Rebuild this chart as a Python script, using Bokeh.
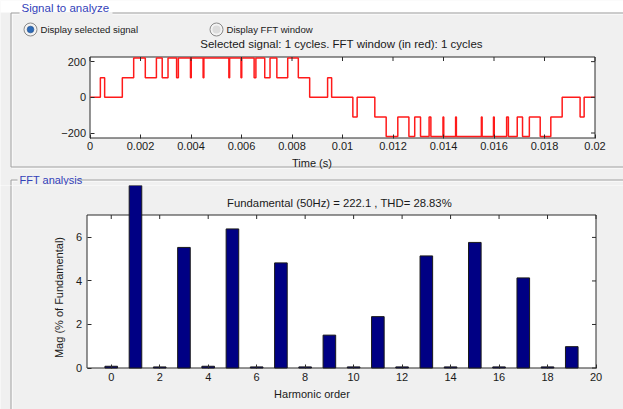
import numpy as np
from bokeh.plotting import figure
from bokeh.models import Range1d, FixedTicker, CustomJSTickFormatter
from bokeh.core.properties import value
from bokeh.layouts import column
from bokeh.embed import file_html
from bokeh.resources import INLINE

# ---------------- data ----------------
switch_times = [0.0, 0.00041, 0.00058, 0.00128, 0.00173, 0.00219, 0.00263, 0.00286, 0.00309,
                0.00343, 0.00350, 0.00398, 0.00401, 0.00448, 0.00451, 0.00550, 0.00553, 0.00598,
                0.00601, 0.00650, 0.00657, 0.00692, 0.00713, 0.00740, 0.00783, 0.00825, 0.00870,
                0.00941, 0.00957,
                0.01041, 0.01058, 0.01128, 0.01173, 0.01219, 0.01263, 0.01286, 0.01309, 0.01343,
                0.01350, 0.01398, 0.01401, 0.01448, 0.01451, 0.01550, 0.01553, 0.01598, 0.01601,
                0.01650, 0.01657, 0.01692, 0.01713, 0.01740, 0.01783, 0.01825, 0.01870, 0.01941,
                0.01957, 0.02]
switch_levels = [0, 110, 0, 110, 220, 110, 220, 110, 220, 110, 220, 110, 220, 110, 220, 110, 220,
                 110, 220, 110, 220, 110, 220, 110, 220, 110, 0, 110, 0,
                 -110, 0, -110, -220, -110, -220, -110, -220, -110, -220, -110, -220, -110, -220,
                 -110, -220, -110, -220, -110, -220, -110, -220, -110, -220, -110, 0, -110, 0, 0]
time_lim = [0.0, 0.02]
volt_lim = [-228, 226]
time_ticks = [0, 0.002, 0.004, 0.006, 0.008, 0.01, 0.012, 0.014, 0.016, 0.018, 0.02]
volt_ticks = [-200, 0, 200]

harmonic_order = [0, 1, 2, 3, 4, 5, 6, 7, 8, 9, 10, 11, 12, 13, 14, 15, 16, 17, 18, 19]
harmonic_mag = [0.08, 100.0, 0.05, 5.54, 0.08, 6.39, 0.05, 4.83, 0.05, 1.51,
                0.05, 2.36, 0.05, 5.15, 0.05, 5.77, 0.05, 4.14, 0.05, 0.98]
harm_lim = [-1, 20]
mag_lim = [0, 7.03]
harm_ticks = [0, 2, 4, 6, 8, 10, 12, 14, 16, 18, 20]
mag_ticks = [0, 2, 4, 6]

panel1_title = "Signal to analyze"
panel2_title = "FFT analysis"
radio_labels = ["Display selected signal", "Display FFT window"]
signal_title = "Selected signal: 1 cycles. FFT window (in red): 1 cycles"
fft_title = "Fundamental (50Hz) = 222.1 , THD= 28.83%"

# ---------------- style / layout ----------------
BG = "#f0f0f0"
AXC = "#2b2b2b"
TXT = "#1a1a1a"
BLUE = "#3341b8"
NAVY = "#000084"
EDGE = "#1a1a1a"
FONT = "Liberation Sans"
BAR_W = 0.52
W = 623
H1 = 185
H2 = 409 - H1


def mapper(lim_x, lim_y, l, r, t, b):
    fx = lambda px: lim_x[0] + (px - l) * (lim_x[1] - lim_x[0]) / (r - l)
    fy = lambda py: lim_y[1] - (py - t) * (lim_y[1] - lim_y[0]) / (b - t)
    return fx, fy


def make_fig(fx, fy, h):
    p = figure(width=W, height=h, x_range=Range1d(fx(0), fx(W)), y_range=Range1d(fy(h), fy(0)),
               output_backend="svg", toolbar_location=None, title=None,
               min_border=0, min_border_left=0, min_border_right=0,
               min_border_top=0, min_border_bottom=0,
               border_fill_color=BG, background_fill_color=BG, outline_line_color=None)
    p.grid.visible = False
    return p


def style_axis(ax):
    ax.axis_line_color = None
    ax.major_tick_line_color = AXC
    ax.major_tick_in = 4
    ax.major_tick_out = 0
    ax.minor_tick_line_color = None
    ax.major_label_text_font = FONT
    ax.major_label_text_font_size = "11px"
    ax.major_label_text_color = TXT
    ax.axis_label_text_font = FONT
    ax.axis_label_text_font_size = "11px"
    ax.axis_label_text_font_style = "normal"
    ax.axis_label_text_color = TXT


def text(p, fx, fy, px, py, s, size="11px", color=TXT, align="left", baseline="middle"):
    p.text(x=[fx(px)], y=[fy(py)], text=[s], text_font=value(FONT), text_font_size=size,
           text_color=color, text_align=align, text_baseline=baseline)


def etched_box(p, fx, fy, l, t, r, b):
    p.quad(left=fx(l + 1), right=fx(r + 1), top=fy(t + 1), bottom=fy(b + 1),
           fill_alpha=0, line_color="white", line_width=1)
    p.quad(left=fx(l), right=fx(r), top=fy(t), bottom=fy(b),
           fill_alpha=0, line_color="#a0a0a0", line_width=1)


def fill(p, fx, fy, l, t, r, b, color=BG):
    p.quad(left=fx(l), right=fx(r), top=fy(t), bottom=fy(b), fill_color=color, line_color=None)


def box_ticks(p, xticks, yticks, xlim, ylim, fx, fy):
    dy = fy(0) - fy(4)
    dx = fx(4) - fx(0)
    p.segment(x0=xticks, x1=xticks, y0=[ylim[1]] * len(xticks), y1=[ylim[1] - dy] * len(xticks),
              line_color=AXC, line_width=1)
    p.segment(x0=[xlim[1]] * len(yticks), x1=[xlim[1] - dx] * len(yticks), y0=yticks, y1=yticks,
              line_color=AXC, line_width=1)


# ---------------- top figure: selected signal ----------------
tfx, tfy = mapper(time_lim, volt_lim, 89.5, 594.5, 56.5, 137.5)
top = make_fig(tfx, tfy, H1)

fill(top, tfx, tfy, -5, -5, 700, 12, color="white")
etched_box(top, tfx, tfy, 10.5, 12.5, 700, 166.5)
etched_box(top, tfx, tfy, 10.5, 179.5, 700, 500)
fill(top, tfx, tfy, 19, 11.5, 112, 20)
fill(top, tfx, tfy, 17, 172, 76, 185)
text(top, tfx, tfy, 21, 7.5, panel1_title, size="11.5px", color=BLUE)
text(top, tfx, tfy, 19, 179, panel2_title, size="11px", color=BLUE)

# radio buttons
top.scatter(x=[tfx(30), tfx(216)], y=[tfy(29), tfy(29)], size=13, marker="circle",
            fill_color="#f3f3f3", line_color="#8a8a8a", line_width=1)
top.scatter(x=[tfx(30), tfx(216)], y=[tfy(29), tfy(29)], size=8, marker="circle",
            fill_color="#dcdcdc", line_color=None)
top.scatter(x=[tfx(30)], y=[tfy(29)], size=6.5, marker="circle",
            fill_color="#2d6bb8", line_color="#1c4f90", line_width=0.6)
text(top, tfx, tfy, 40, 29, radio_labels[0], size="9.6px")
text(top, tfx, tfy, 226, 29, radio_labels[1], size="9.6px")
text(top, tfx, tfy, 341, 43, signal_title, size="11.5px", align="center")

# axes box
top.quad(left=time_lim[0], right=time_lim[1], bottom=volt_lim[0], top=volt_lim[1],
         fill_color="white", line_color=AXC, line_width=1)
top.step(x=switch_times, y=switch_levels, mode="after", line_color="#ff1a1a", line_width=1.5)
box_ticks(top, time_ticks, volt_ticks, time_lim, volt_lim, tfx, tfy)

top.xaxis.ticker = FixedTicker(ticks=time_ticks)
top.xaxis.formatter = CustomJSTickFormatter(code="return String(parseFloat(tick.toFixed(4)));")
top.xaxis.fixed_location = volt_lim[0]
top.xaxis.axis_label = "Time (s)"
top.xaxis.major_label_standoff = 4
top.xaxis.axis_label_standoff = 3
top.yaxis.ticker = FixedTicker(ticks=volt_ticks)
top.yaxis.fixed_location = time_lim[0]
top.yaxis.major_label_standoff = 4
for ax in top.xaxis + top.yaxis:
    style_axis(ax)

# ---------------- bottom figure: FFT ----------------
bfx, bfy = mapper(harm_lim, mag_lim, 86.5, 595.5, 214.5 - H1, 367.5 - H1)
bot = make_fig(bfx, bfy, H2)
etched_box(bot, bfx, bfy, 10.5, 179.5 - H1, 700, 500)
bot.quad(left=harm_lim[0], right=harm_lim[1], bottom=mag_lim[0], top=mag_lim[1],
         fill_color="white", line_color=AXC, line_width=1)
bot.vbar(x=harmonic_order, top=harmonic_mag, width=BAR_W, fill_color=NAVY, line_color=EDGE,
         line_width=1)
box_ticks(bot, harm_ticks, mag_ticks, harm_lim, mag_lim, bfx, bfy)
text(bot, bfx, bfy, 339, 202 - H1, fft_title, size="11.3px", align="center")

bot.xaxis.ticker = FixedTicker(ticks=harm_ticks)
bot.xaxis.fixed_location = mag_lim[0]
bot.xaxis.axis_label = "Harmonic order"
bot.xaxis.major_label_standoff = 5
bot.xaxis.axis_label_standoff = 3
bot.yaxis.ticker = FixedTicker(ticks=mag_ticks)
bot.yaxis.fixed_location = harm_lim[0]
bot.yaxis.axis_label = "Mag (% of Fundamental)"
bot.yaxis.major_label_standoff = 5
bot.yaxis.axis_label_standoff = 8
for ax in bot.xaxis + bot.yaxis:
    style_axis(ax)

layout = column(top, bot)
open("out.html", "w").write(file_html(layout, INLINE))
